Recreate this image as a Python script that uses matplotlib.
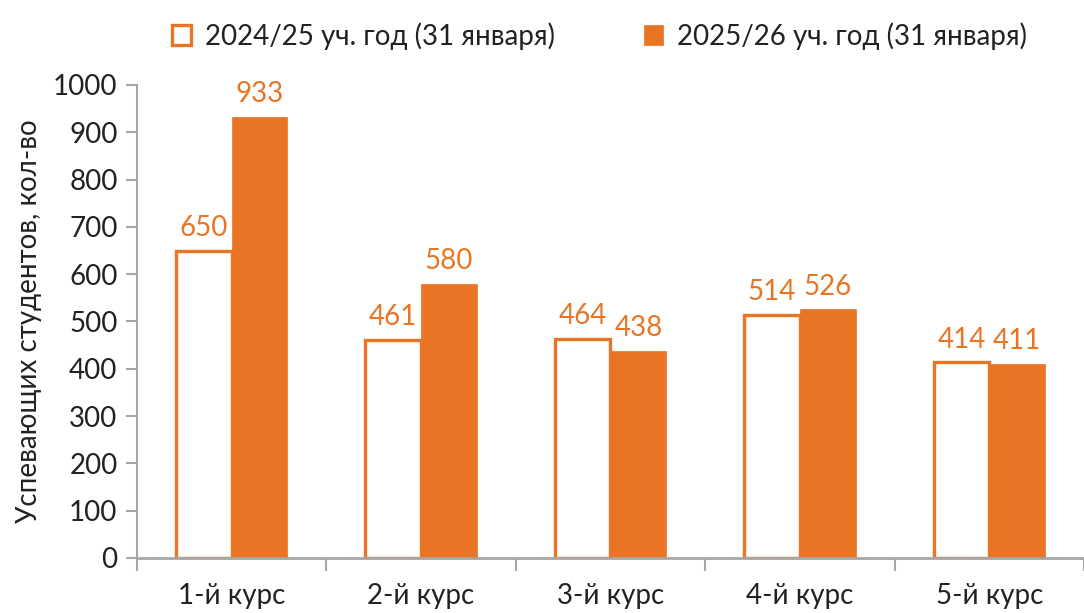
import matplotlib.pyplot as plt
import numpy as np

plt.rcParams['font.family'] = ['Lato', 'DejaVu Sans']

kursy = ['1-й курс', '2-й курс', '3-й курс', '4-й курс', '5-й курс']
god_2024 = [650, 461, 464, 514, 414]
god_2025 = [933, 580, 438, 526, 411]
nazv_2024 = '2024/25 уч. год (31 января)'
nazv_2025 = '2025/26 уч. год (31 января)'

oranzh = '#E87424'
seryj = '#A6A6A6'
tekst = '#222222'

figura = plt.figure(figsize=(10.84, 6.13), dpi=100)
ejes = figura.add_axes([137 / 1084, 1 - 558 / 613, 1 - 137 / 1084, (558 - 85) / 613])

x = np.arange(len(kursy))
w = 0.294
b1 = ejes.bar(x - w / 2, god_2024, w, color='white', edgecolor=oranzh, linewidth=2.4,
              label=nazv_2024, zorder=3)
b2 = ejes.bar(x + w / 2, god_2025, w, color=oranzh, edgecolor=oranzh, linewidth=0.5,
              label=nazv_2025, zorder=3)

for xi, v in zip(x, god_2024):
    ejes.text(xi - w / 2, v + 20, str(v), ha='center', va='bottom', color=oranzh, fontsize=20)
for xi, v in zip(x, god_2025):
    ejes.text(xi + w / 2, v + 20, str(v), ha='center', va='bottom', color=oranzh, fontsize=20)

ejes.set_ylim(0, 1000)
ejes.set_yticks(range(0, 1001, 100))
ejes.set_xlim(-0.5, 4.457)
ejes.set_xticks(np.arange(-0.5, 4.6, 1))
ejes.set_xticklabels([])
ejes.set_xticks(x, minor=True)
ejes.set_xticklabels(kursy, minor=True)
ejes.tick_params(axis='x', which='major', length=9, width=1.5, color=seryj)
ejes.tick_params(axis='x', which='minor', length=0, pad=18, labelsize=20, labelcolor=tekst)
ejes.tick_params(axis='y', length=8, width=1.5, color=seryj, labelsize=20, labelcolor=tekst, pad=6)

for lado in ['top', 'right']:
    ejes.spines[lado].set_visible(False)
ejes.spines['left'].set_color(seryj)
ejes.spines['left'].set_linewidth(1.5)
ejes.spines['bottom'].set_color(seryj)
ejes.spines['bottom'].set_linewidth(2)
ejes.spines['bottom'].set_zorder(4)

ejes.set_ylabel('Успевающих студентов, кол-во', fontsize=20, color=tekst, labelpad=8)

figura.legend(handles=[b1, b2], loc='upper center', bbox_to_anchor=(0.553, 1.005), ncol=2,
              frameon=False, fontsize=20, handlelength=0.7, handleheight=0.7,
              handletextpad=0.5, columnspacing=3.2, labelcolor=tekst)

figura.savefig('out.png', dpi=100)
plt.close(figura)
